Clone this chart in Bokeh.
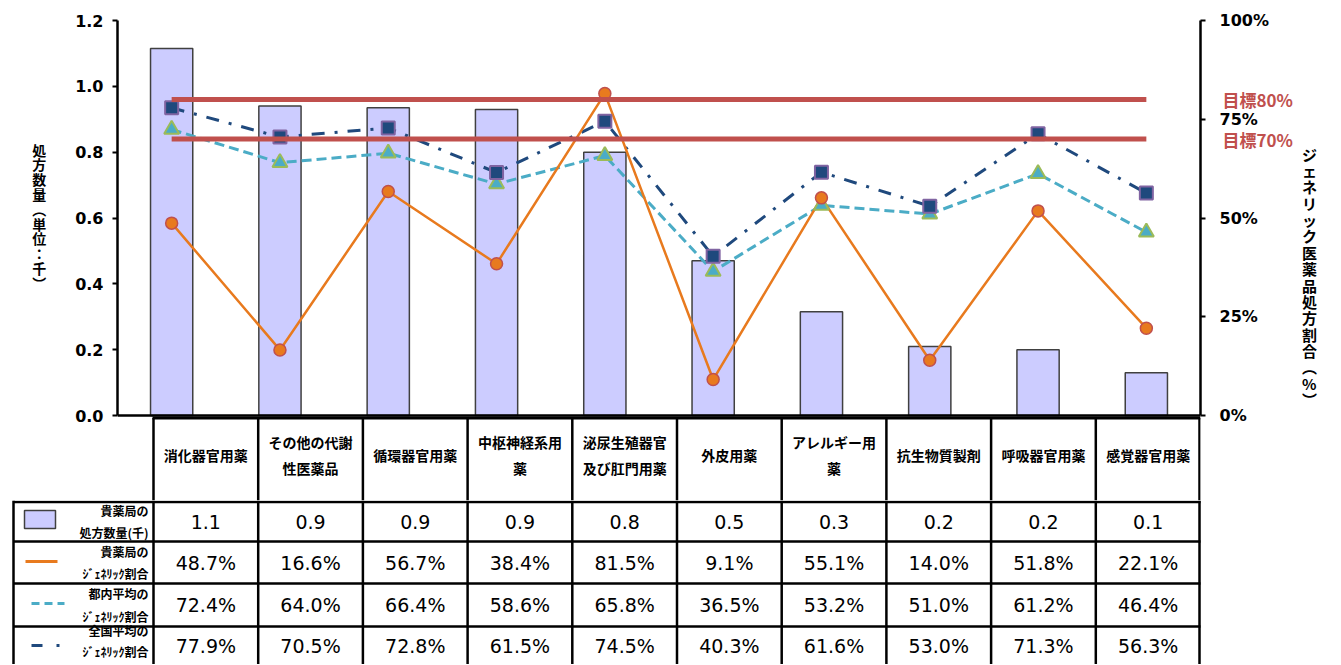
from bokeh.plotting import figure
from bokeh.models import (FactorRange, Range1d, LinearAxis, FixedTicker,
                          PrintfTickFormatter, NumeralTickFormatter, Span)
from bokeh.layouts import column
from bokeh.core.properties import value
from bokeh.embed import file_html
from bokeh.resources import INLINE

# ---------------- data ----------------
categories = ["消化器官用薬", "その他の代謝性医薬品", "循環器官用薬", "中枢神経系用薬",
              "泌尿生殖器官及び肛門用薬", "外皮用薬", "アレルギー用薬", "抗生物質製剤",
              "呼吸器官用薬", "感覚器官用薬"]
header_labels = ["消化器官用薬", "その他の代謝\n性医薬品", "循環器官用薬", "中枢神経系用\n薬",
                 "泌尿生殖器官\n及び肛門用薬", "外皮用薬", "アレルギー用\n薬", "抗生物質製剤",
                 "呼吸器官用薬", "感覚器官用薬"]
quantity = [1.115, 0.94, 0.935, 0.93, 0.80, 0.47, 0.315, 0.21, 0.20, 0.13]
own_rate = [48.7, 16.6, 56.7, 38.4, 81.5, 9.1, 55.1, 14.0, 51.8, 22.1]
tokyo_rate = [72.4, 64.0, 66.4, 58.6, 65.8, 36.5, 53.2, 51.0, 61.2, 46.4]
national_rate = [77.9, 70.5, 72.8, 61.5, 74.5, 40.3, 61.6, 53.0, 71.3, 56.3]
targets = [80, 70]
target_labels = ["目標80%", "目標70%"]
left_ticks = [0.0, 0.2, 0.4, 0.6, 0.8, 1.0, 1.2]
right_ticks = [0, 25, 50, 75, 100]
row_titles = ["貴薬局の\n処方数量(千)", "貴薬局の\nｼﾞｪﾈﾘｯｸ割合", "都内平均の\nｼﾞｪﾈﾘｯｸ割合", "全国平均の\nｼﾞｪﾈﾘｯｸ割合"]
left_title = "処方数量︵単位：千︶"
right_title = "ジェネリック医薬品処方割合︵%︶"

# ---------------- styles / geometry ----------------
W = 1333
BAR_FILL = "#CCCCFF"
BAR_LINE = "#404040"
ORANGE = "#E87A1E"
CYAN = "#4BACC6"
NAVY = "#1F497D"
RED = "#C0504D"
JP = "Noto Sans CJK JP"
NUM = "DejaVu Sans"

TOP = 20
LEFT = 117
Y_MAX = 1.2
PLOT_H = 395          # pixel height of the 0..1.2 value band
HEAD_H = 85           # header row band below the value axis (pixels)
Y_MIN = -HEAD_H * Y_MAX / PLOT_H
n = len(categories)
FRAME_W = 1083
CAT_PX = FRAME_W / n  # pixel width of one category


def px_x(dx_px):      # pixel offset from frame left -> synthetic x
    return dx_px / CAT_PX


def px_y(dy_px):      # pixel offset below value zero -> y value
    return -dy_px * Y_MAX / PLOT_H


pct = lambda arr: [v / 100 for v in arr]

# ---------------- chart ----------------
CH = TOP + PLOT_H + HEAD_H
p = figure(width=W, height=CH, x_range=FactorRange(*categories),
           y_range=Range1d(Y_MIN, Y_MAX), output_backend="svg", toolbar_location=None,
           x_axis_location=None, min_border_left=LEFT, min_border_right=W - LEFT - FRAME_W,
           min_border_top=TOP, min_border_bottom=0)
p.frame_align = False
p.extra_y_ranges = {"pct": Range1d(Y_MIN / Y_MAX, 1.0)}
p.outline_line_color = None
p.grid.visible = False

ya = p.yaxis[0]
ya.ticker = FixedTicker(ticks=left_ticks)
ya.formatter = PrintfTickFormatter(format="%.1f")
ya.bounds = (0, Y_MAX)
ax2 = LinearAxis(y_range_name="pct", ticker=FixedTicker(ticks=[t / 100 for t in right_ticks]),
                 formatter=NumeralTickFormatter(format="0%"), bounds=(0, 1))
p.add_layout(ax2, "right")

for ax in (ya, ax2):
    ax.axis_line_width = 2.5
    ax.axis_line_color = "black"
    ax.major_tick_line_width = 2
    ax.major_tick_in = 0
    ax.major_tick_out = 5
    ax.minor_tick_line_color = None
    ax.major_label_text_font = NUM
    ax.major_label_text_font_style = "bold"
    ax.major_label_text_font_size = "16px"
    ax.major_label_text_color = "black"
    ax.axis_label_text_font = JP
    ax.axis_label_text_font_style = "bold"
    ax.axis_label_text_color = "black"
    ax.axis_label_orientation = "horizontal"

ya.major_label_standoff = 9
ya.axis_label = "\n".join(left_title) + "\n" * 6
ya.axis_label_text_font_size = "14px"
ya.axis_label_text_line_height = 0.74
ya.axis_label_standoff = 26
ax2.major_label_standoff = 14
ax2.axis_label = "\n" * 2 + "\n".join(right_title)
ax2.axis_label_text_font_size = "15px"
ax2.axis_label_text_line_height = 0.78
ax2.axis_label_standoff = 30

# target labels: an outer label-only axis whose labels are pulled back over the % column
tax = LinearAxis(y_range_name="pct", ticker=FixedTicker(ticks=pct(targets)),
                 major_label_overrides={tv / 100: tl for tv, tl in zip(targets, target_labels)})
tax.axis_line_color = None
tax.major_tick_line_color = None
tax.minor_tick_line_color = None
tax.major_tick_out = 0
tax.major_tick_in = 0
tax.major_label_standoff = -97
tax.major_label_text_font = JP
tax.major_label_text_font_style = "bold"
tax.major_label_text_font_size = "17px"
tax.major_label_text_color = RED
tax.axis_label = " "
tax.axis_label_text_font_size = "1px"
tax.axis_label_standoff = 29
p.add_layout(tax, "right")

p.vbar(x=categories, top=quantity, width=0.39, fill_color=BAR_FILL,
       line_color=BAR_LINE, line_width=1.5)

p.line(categories, pct(tokyo_rate), y_range_name="pct", line_color=CYAN,
       line_width=3, line_dash="10 5")
p.line(categories, pct(national_rate), y_range_name="pct", line_color=NAVY,
       line_width=3, line_dash="13 10 3 10")
p.line(categories, pct(own_rate), y_range_name="pct", line_color=ORANGE, line_width=2.5)

p.scatter(categories, pct(tokyo_rate), y_range_name="pct", marker="triangle", size=15,
          fill_color=CYAN, line_color="#9BBB59", line_width=2)
p.scatter(categories, pct(national_rate), y_range_name="pct", marker="square", size=13,
          fill_color=NAVY, line_color="#8064A2", line_width=2)
p.scatter(categories, pct(own_rate), y_range_name="pct", marker="circle", size=12,
          fill_color=ORANGE, line_color=RED, line_width=1.5)

for tv in targets:
    p.line([categories[0], categories[-1]], [tv / 100, tv / 100], y_range_name="pct",
           line_color=RED, line_width=5)

p.add_layout(Span(location=0, dimension="width", line_color="black", line_width=2.5))

# table header row (inside the chart frame, below the value zero line)
TC0, TC1 = 36, FRAME_W       # table columns, pixels from frame left
tcw = (TC1 - TC0) / n
hx = [px_x(TC0 + i * tcw) for i in range(n + 1)]
hx[-1] = px_x(TC1 - 1)
p.segment(x0=hx, y0=[px_y(2.5)] * len(hx), x1=hx, y1=[px_y(HEAD_H + 5)] * len(hx),
          line_color="black", line_width=2.5)
p.segment(x0=[px_x(TC0 - 1)], y0=[px_y(2.5)], x1=[px_x(TC1)], y1=[px_y(2.5)],
          line_color="black", line_width=3)
hcent = [px_x(TC0 + (i + 0.5) * tcw) for i in range(n)]
p.text(x=hcent, y=[px_y(39)] * n, text=header_labels, text_font=value(JP),
       text_font_style="bold", text_font_size="14px", text_align="center",
       text_baseline="middle", text_line_height=1.3, text_color="black")

# ---------------- table body ----------------
TH = 664 - CH
t = figure(width=W, height=TH, x_range=Range1d(0, W), y_range=Range1d(TH, 0),
           output_backend="svg", toolbar_location=None, x_axis_location=None,
           y_axis_location=None, min_border=0)
t.frame_align = False
t.outline_line_color = None
t.grid.visible = False

c0, c1 = LEFT + TC0, LEFT + TC1
cw = (c1 - c0) / n
lx = 13
rows = [1.5, 41, 83, 126, 169]

t.segment(x0=[lx] * 4, y0=rows[:4], x1=[c1] * 4, y1=rows[:4], line_color="black",
          line_width=2.5)
vx = [lx] + [c0 + i * cw for i in range(n)] + [c1 - 1]
t.segment(x0=vx, y0=[0] * len(vx), x1=vx, y1=[TH + 10] * len(vx), line_color="black",
          line_width=2.5)

centers = [c0 + (i + 0.5) * cw for i in range(n)]
row_vals = [[f"{v:.1f}" for v in quantity],
            [f"{v:.1f}%" for v in own_rate],
            [f"{v:.1f}%" for v in tokyo_rate],
            [f"{v:.1f}%" for v in national_rate]]
for r, vals in enumerate(row_vals):
    yc = (rows[r] + rows[r + 1]) / 2
    last = r == len(row_vals) - 1
    t.text(x=centers, y=[yc - (2 if last else 0)] * n, text=vals, text_font=value(NUM),
           text_font_size="19px", text_align="center", text_baseline="middle",
           text_color="black")
    t.text(x=[lx + 135], y=[yc - (7 if last else 0)], text=[row_titles[r]],
           text_font=value(JP), text_font_style="bold", text_font_size="12px",
           text_align="right", text_baseline="middle",
           text_line_height=1.2 if last else 1.31, text_color="black")

# legend symbols
t.quad(left=[24], right=[55], top=[10], bottom=[28], fill_color=BAR_FILL,
       line_color=BAR_LINE, line_width=1.5)
t.line([25, 57], [61, 61], line_color=ORANGE, line_width=3)
t.line([31, 64], [103, 103], line_color=CYAN, line_width=3, line_dash="8 5")
t.line([31, 62], [145, 145], line_color=NAVY, line_width=3, line_dash="11 14 3 20")

layout = column(p, t, spacing=0)
open("out.html", "w").write(file_html(layout, INLINE))
